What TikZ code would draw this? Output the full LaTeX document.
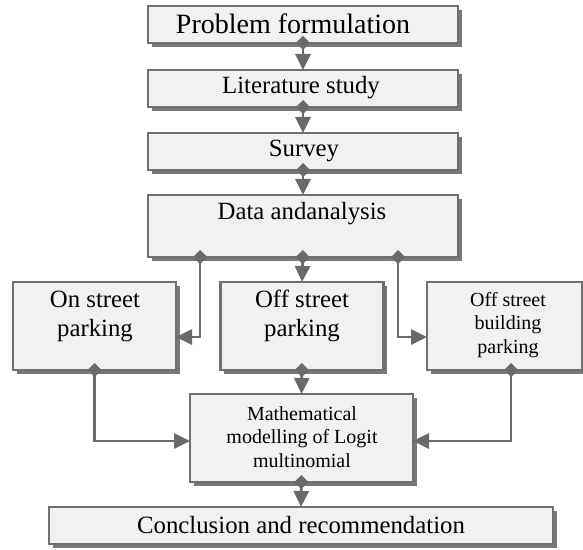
\documentclass[tikz,border=0pt]{standalone}
\usepackage{fontspec}
\setmainfont{Liberation Serif}
\usetikzlibrary{arrows.meta,shadows}
\definecolor{boxfill}{HTML}{F1F1F1}
\definecolor{bordergray}{HTML}{707070}
\definecolor{shadowgray}{HTML}{787878}
\definecolor{linegray}{HTML}{6A6A6A}
\begin{document}
\begin{tikzpicture}[x=0.5pt,y=-0.5pt,
  box/.style={draw=bordergray, line width=1.1pt, fill=boxfill,
    drop shadow={shadow xshift=1.8pt, shadow yshift=-2pt, fill=shadowgray, opacity=1},
    inner sep=0pt, outer sep=0pt, anchor=center},
  conn/.style={draw=linegray, line width=1.4pt,
    {Diamond[length=7pt,width=7pt]}-{Triangle[length=8pt,width=7.5pt]}},
  bigtxt/.style={font=\fontsize{14}{16.5}\selectfont, align=center, inner sep=0pt},
  midtxt/.style={font=\fontsize{12.4}{14.5}\selectfont, align=center, inner sep=0pt},
  smalltxt/.style={font=\fontsize{10}{11.7}\selectfont, align=center, inner sep=0pt}]
\useasboundingbox (0,0) rectangle (583,550);

% boxes
\node[box, minimum width=155pt, minimum height=18.5pt] (b1) at (303,24.5) {};
\node[box, minimum width=155pt, minimum height=18.5pt] (b2) at (303,88.5) {};
\node[box, minimum width=155pt, minimum height=18.5pt] (b3) at (303,151.5) {};
\node[box, minimum width=155pt, minimum height=31pt] (b4) at (303,226) {};
\node[box, minimum width=81.5pt, minimum height=44pt] (b5) at (94.5,326) {};
\node[box, minimum width=81.5pt, minimum height=44pt] (b6) at (302,326) {};
\node[box, minimum width=77.5pt, minimum height=44pt] (b7) at (504.5,326) {};
\node[box, minimum width=111.5pt, minimum height=44pt] (b8) at (301.5,438) {};
\node[box, minimum width=252pt, minimum height=18.5pt] (b9) at (301,525.5) {};

% texts
\node[bigtxt] (t1) at (293,24) {Problem formulation};
\node[midtxt] (t2) at (301,88) {Literature study};
\node[midtxt] (t3) at (304,151) {Survey};
\node[midtxt] (t4) at (302,214) {Data andanalysis};
\node[midtxt] (t5) at (95,316) {On street\\parking};
\node[midtxt] (t6) at (302,316) {Off street\\parking};
\node[smalltxt] (t7) at (508,325) {Off street\\building\\parking};
\node[smalltxt] (t8) at (302,437) {Mathematical\\modelling of Logit\\multinomial};
\node[midtxt] (t9) at (301,525) {Conclusion and recommendation};

% connectors
\draw[conn] ([yshift=3.5pt]b1.south) -- (b2.north);
\draw[conn] ([yshift=3.5pt]b2.south) -- (b3.north);
\draw[conn] ([yshift=3.5pt]b3.south) -- (b4.north);
\draw[conn] ([yshift=3.5pt]b4.south) -- (b6.north);
\draw[conn] ([xshift=26pt,yshift=3.5pt]b4.south west) |- ([yshift=-5.5pt]b5.east);
\draw[conn] ([xshift=-30pt,yshift=3.5pt]b4.south east) |- ([yshift=-5.5pt]b7.west);
\draw[conn] ([yshift=3.5pt]b5.south) |- ([yshift=-1.5pt]b8.west);
\draw[conn] ([yshift=3.5pt]b6.south) -- (b8.north);
\draw[conn] ([xshift=3.25pt,yshift=3.5pt]b7.south) |- ([yshift=-1.5pt]b8.east);
\draw[conn] ([yshift=3.5pt]b8.south) -- (b9.north);
\end{tikzpicture}
\end{document}
